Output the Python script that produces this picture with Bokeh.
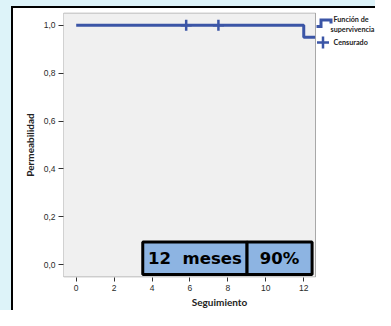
from bokeh.plotting import figure
from bokeh.embed import file_html
from bokeh.resources import INLINE
from bokeh.models import CustomJSTickFormatter, FixedTicker, ColumnDataSource
from bokeh.core.properties import value

# ---- data ----
km_time = [0.0, 12.0, 12.6]
km_surv = [1.0, 0.95, 0.95]
cens_time = [5.8, 7.5]
cens_surv = [1.0, 1.0]
x_ticks = [0, 2, 4, 6, 8, 10, 12]
y_ticks = [0.0, 0.2, 0.4, 0.6, 0.8, 1.0]
box_left = [3.51, 9.01]
box_right = [9.01, 12.44]
box_bottom = -0.041
box_top = 0.095
box_texts = ["12\u00a0\u00a0meses", "90%"]
legend_labels = ["Función de", "supervivencia", "Censurado"]

# ---- layout (pixels) ----
X0, X1 = -0.67, 12.62
Y0, Y1 = -0.053, 1.053
W, H = 375, 310
ML, MT, MB = 63, 12, 33
AREA_PX = 252                     # grey plotting area width
FRAME_W = W - ML                  # frame runs to the right edge; legend sits there
FRAME_H = H - MT - MB
X_END = X0 + (X1 - X0) * FRAME_W / AREA_PX


def dx(px):   # canvas px -> data x
    return X0 + (px - ML) * (X_END - X0) / FRAME_W


def dy(py):   # canvas px -> data y
    return Y1 - (py - MT) * (Y1 - Y0) / FRAME_H


BLUE = "#3b55a6"
CYAN = "#ddf3f9"

p = figure(width=W, height=H, x_range=(X0, X_END), y_range=(Y0, Y1),
           output_backend="svg", toolbar_location=None,
           min_border_left=ML, min_border_right=0, min_border_top=MT, min_border_bottom=MB)
p.background_fill_color = "white"
p.border_fill_alpha = 0
p.styles = {"background-color": "white",
            "box-shadow": (f"inset 11px 0 0 0 {CYAN}, inset 0 6px 0 0 {CYAN}, "
                           "inset 13px 0 0 0 black, inset 0 8px 0 0 black")}
p.outline_line_color = None
p.xgrid.visible = False
p.ygrid.visible = False

# grey plotting area
p.quad(left=[X0], right=[X1], bottom=[Y0 + 0.002], top=[Y1 - 0.002],
       fill_color="#f0f0f0", line_color="#a8a8a8", line_width=1)

for ax in (p.xaxis[0], p.yaxis[0]):
    ax.axis_line_color = None
    ax.major_tick_in = 0
    ax.major_tick_out = 5
    ax.minor_tick_line_color = None
    ax.major_tick_line_color = "#333333"
    ax.major_label_text_font = "Liberation Sans"
    ax.major_label_text_font_size = "8.5px"
    ax.major_label_text_color = "#2a2a2a"
    ax.axis_label_text_font = "Lato"
    ax.axis_label_text_font_style = "bold"
    ax.axis_label_text_font_size = "10px"
    ax.axis_label_text_color = "#222222"

p.xaxis.ticker = FixedTicker(ticks=x_ticks)
p.yaxis.ticker = FixedTicker(ticks=y_ticks)
p.xaxis.bounds = (X0, X1)
p.yaxis.formatter = CustomJSTickFormatter(code="return tick.toFixed(1).replace('.', ',');")
p.xaxis.axis_label = "Seguimiento"
p.yaxis.axis_label = "Permeabilidad"
p.xaxis.major_tick_out = 4
p.xaxis.major_label_standoff = 3
p.xaxis.axis_label_standoff = 2
p.yaxis.major_label_standoff = 3
p.yaxis.axis_label_standoff = 5

# KM step + censored marks
p.step(km_time, km_surv, mode="after", line_color=BLUE, line_width=3)
p.scatter(cens_time, cens_surv, marker="cross", size=11, line_color=BLUE, line_width=2.5)

# annotation box
src = ColumnDataSource(dict(left=box_left, right=box_right,
                            x=[(a + b) / 2 for a, b in zip(box_left, box_right)],
                            t=box_texts))
p.quad(left="left", right="right", bottom=box_bottom, top=box_top, source=src,
       fill_color="#8db4e2", line_color="black", line_width=3)
p.text(x="x", y=(box_bottom + box_top) / 2, text="t", source=src,
       text_font=value("DejaVu Sans"), text_font_style="bold", text_font_size="16.5px",
       text_color="black", text_align="center", text_baseline="middle")

# legend (drawn by hand to the right of the grey area)
p.line(x=[dx(316), dx(320.5), dx(320.5), dx(330.5), dx(330.5)],
       y=[dy(26), dy(26), dy(19.5), dy(19.5), dy(23)],
       line_color=BLUE, line_width=3, line_join="miter")
p.scatter(x=[dx(322.5)], y=[dy(42)], marker="cross", size=12, line_color=BLUE, line_width=2.5)
p.text(x=[dx(333), dx(330), dx(333)], y=[dy(19), dy(29), dy(42)], text=legend_labels,
       text_font=value("Lato"), text_font_style="bold", text_font_size="7.2px",
       text_color="#222222", text_align="left", text_baseline="middle")

open("out.html", "w").write(file_html(p, INLINE))
